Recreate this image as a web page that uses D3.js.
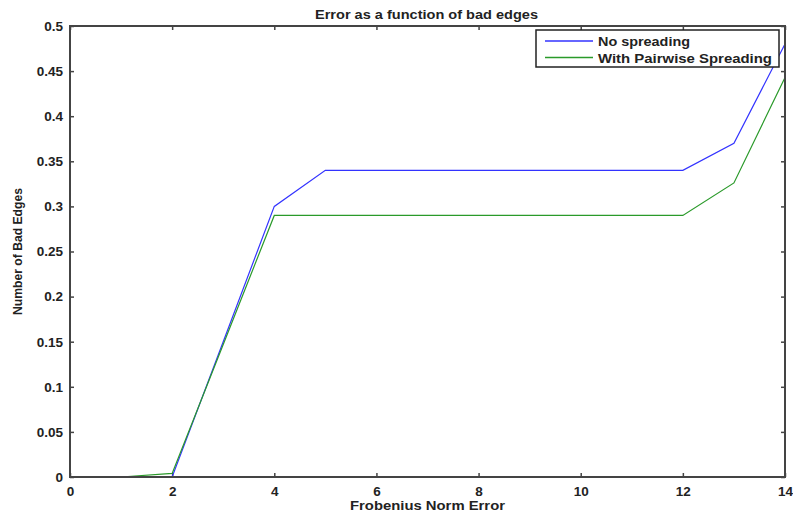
<!DOCTYPE html>
<html>
<head>
<meta charset="utf-8">
<script src="https://cdn.jsdelivr.net/npm/d3@7"></script>
<style>
  body { margin: 0; background: #fff; }
  svg { font-family: "Liberation Sans", Arial, sans-serif; }
</style>
</head>
<body>
<svg id="chart" width="793" height="514"></svg>
<script>
const xValues = [0, 1, 2, 3, 4, 5, 6, 7, 8, 9, 10, 11, 12, 13, 14];
const noSpreading = [0, 0, 0, 0.15, 0.30, 0.34, 0.34, 0.34, 0.34, 0.34, 0.34, 0.34, 0.34, 0.37, 0.48];
const pairwise = [0, 0, 0.004, 0.147, 0.29, 0.29, 0.29, 0.29, 0.29, 0.29, 0.29, 0.29, 0.29, 0.326, 0.443];
const xTicks = [0, 2, 4, 6, 8, 10, 12, 14];
const yTicks = [0, 0.05, 0.1, 0.15, 0.2, 0.25, 0.3, 0.35, 0.4, 0.45, 0.5];
const seriesNames = ["No spreading", "With Pairwise Spreading"];
const seriesColors = ["#3333ff", "#2a9a2a"];

const mLeft = 70, mRight = 785, mTop = 26, mBottom = 477;

const svg = d3.select("#chart");

const x = d3.scaleLinear().domain([0, 14]).range([mLeft, mRight]);
const y = d3.scaleLinear().domain([0, 0.5]).range([mBottom, mTop]);

// axes with inward ticks
const axisColor = "#444";
svg.append("g")
    .attr("transform", `translate(0,${mBottom})`)
    .call(d3.axisBottom(x).tickValues(xTicks).tickSize(-4).tickPadding(9).tickFormat(d3.format("d")))
    .call(g => g.select(".domain").remove());
svg.append("g")
    .attr("transform", `translate(0,${mTop})`)
    .call(d3.axisTop(x).tickValues(xTicks).tickSize(-4).tickFormat(""))
    .call(g => g.select(".domain").remove());
svg.append("g")
    .attr("transform", `translate(${mLeft},0)`)
    .call(d3.axisLeft(y).tickValues(yTicks).tickSize(-4).tickPadding(7).tickFormat(d => String(+d.toFixed(2))))
    .call(g => g.select(".domain").remove());
svg.append("g")
    .attr("transform", `translate(${mRight},0)`)
    .call(d3.axisRight(y).tickValues(yTicks).tickSize(-4).tickFormat(""))
    .call(g => g.select(".domain").remove());

svg.selectAll(".tick line").attr("stroke", axisColor).attr("stroke-width", 1.5);
svg.selectAll(".tick text")
    .attr("fill", "#222")
    .style("font-size", "13.5px")
    .style("font-weight", "bold");

// series lines
const line = d3.line().x((d, i) => x(xValues[i])).y(d => y(d));
[noSpreading, pairwise].forEach((vals, k) => {
  svg.append("path")
      .datum(vals)
      .attr("fill", "none")
      .attr("stroke", seriesColors[k])
      .attr("stroke-width", 1.2)
      .attr("d", line);
});

// plot box
svg.append("rect")
    .attr("x", mLeft).attr("y", mTop)
    .attr("width", mRight - mLeft).attr("height", mBottom - mTop)
    .attr("fill", "none")
    .attr("stroke", axisColor)
    .attr("stroke-width", 2);

// legend
const legendLens = [92, 174];
const lg = svg.append("g").attr("transform", "translate(536,30)");
lg.append("rect")
    .attr("width", 243).attr("height", 37)
    .attr("fill", "#fff")
    .attr("stroke", "#222")
    .attr("stroke-width", 1.5);
seriesNames.forEach((name, k) => {
  const yy = 11 + k * 16.5;
  lg.append("line")
      .attr("x1", 9).attr("x2", 57)
      .attr("y1", yy).attr("y2", yy)
      .attr("stroke", seriesColors[k])
      .attr("stroke-width", 1.3);
  lg.append("text")
      .attr("x", 62).attr("y", yy + 5)
      .attr("fill", "#222")
      .attr("textLength", legendLens[k])
      .attr("lengthAdjust", "spacingAndGlyphs")
      .style("font-size", "13.5px")
      .style("font-weight", "bold")
      .text(name);
});

// titles
svg.append("text")
    .attr("x", 315).attr("y", 19)
    .attr("textLength", 223)
    .attr("lengthAdjust", "spacingAndGlyphs")
    .style("font-size", "13.5px")
    .style("font-weight", "bold")
    .attr("fill", "#222")
    .text("Error as a function of bad edges");
svg.append("text")
    .attr("x", 350).attr("y", 510)
    .attr("textLength", 155)
    .attr("lengthAdjust", "spacingAndGlyphs")
    .style("font-size", "13.5px")
    .style("font-weight", "bold")
    .attr("fill", "#222")
    .text("Frobenius Norm Error");
svg.append("text")
    .attr("transform", `translate(22,315) rotate(-90)`)
    .attr("textLength", 127)
    .attr("lengthAdjust", "spacingAndGlyphs")
    .style("font-size", "12.5px")
    .style("font-weight", "bold")
    .attr("fill", "#222")
    .text("Number of Bad Edges");
</script>
</body>
</html>
